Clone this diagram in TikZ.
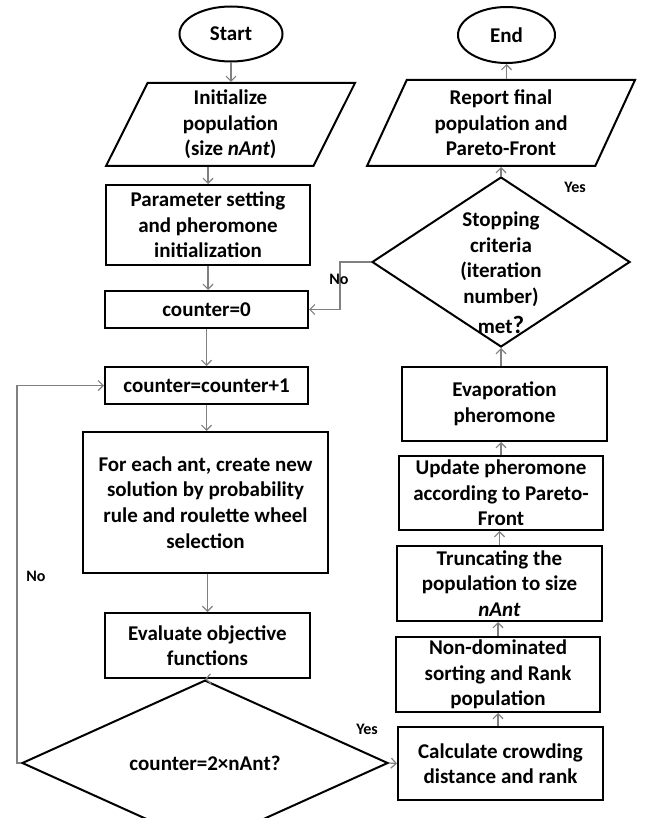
\documentclass[tikz,border=0pt]{standalone}
\usepackage{fontspec}
\setmainfont{Carlito}
\usetikzlibrary{shapes.geometric,arrows.meta}
\begin{document}
\begin{tikzpicture}[x=1pt,y=-1pt,
  txt/.style={font=\fontsize{21}{25.6}\selectfont\bfseries, align=center},
  box/.style={txt, draw=black, line width=2pt, rectangle, inner xsep=3pt, inner ysep=0pt},
  term/.style={txt, draw=black, line width=2pt, ellipse, inner sep=0pt},
  io/.style={txt, draw=black, line width=2pt, trapezium, trapezium left angle=59, trapezium right angle=121, trapezium stretches body, inner sep=0pt},
  dec/.style={txt, draw=black, line width=2pt, diamond, inner sep=0pt},
  flow/.style={draw=black!50, line width=1.2pt, -{Straight Barb[length=5pt,width=10pt]}},
  lbl/.style={font=\fontsize{16}{19}\selectfont\bfseries}
]
\useasboundingbox (0,0) rectangle (651,818);

% left column
\node[term, minimum width=103, minimum height=55] (start) at (231,34) {Start};
\node[io, minimum width=249, minimum height=83] (init) at (230.5,124.5) {Initialize\\population\\(size \textit{nAnt})};
\node[box, minimum width=204, minimum height=80] (param) at (208,225) {Parameter setting\\and pheromone\\initialization};
\node[box, minimum width=203, minimum height=37] (cnt0) at (206.5,309.5) {counter=0};
\node[box, minimum width=203, minimum height=37] (cnt1) at (206.5,385.5) {counter=counter+1};
\node[box, minimum width=245, minimum height=141] (each) at (205.5,502.5) {For each ant, create new\\solution by probability\\rule and roulette wheel\\selection};
\node[box, minimum width=205, minimum height=65] (eval) at (207.5,645.5) {Evaluate objective\\functions};
\node[dec, minimum width=366, minimum height=102] (check) at (205,763) {counter=2×nAnt?};

% right column
\node[box, minimum width=205, minimum height=73] (calc) at (500.5,763.5) {Calculate crowding\\distance and rank};
\node[box, minimum width=204, minimum height=75] (nondom) at (498,674.5) {Non-dominated\\sorting and Rank\\population};
\node[box, minimum width=205, minimum height=75] (trunc) at (499.5,583.5) {Truncating the\\population to size\\\textit{nAnt}};
\node[box, minimum width=204, minimum height=74] (update) at (501,493) {Update pheromone\\according to Pareto-\\Front};
\node[box, minimum width=205, minimum height=74] (evap) at (504.5,404) {Evaporation\\pheromone};
\node[dec, minimum width=258, minimum height=170] (stop) at (501,262) {};
\node[txt, inner sep=0pt] (stoptxt) at (501,273) {Stopping\\criteria\\(iteration\\number)\\[5pt]met{\fontsize{25}{25.6}\selectfont ?}};
\node[io, minimum width=268, minimum height=86] (report) at (501,123) {Report final\\population and\\Pareto-Front};
\node[term, minimum width=97, minimum height=56] (end) at (506.5,35) {End};

% connectors
\draw[flow] (start) -- (start |- init.north);
\draw[flow] (param.north |- init.south) -- (param.north);
\draw[flow] (param.south) -- (cnt0.north -| param.south);
\draw[flow] (cnt0.south) -- (cnt1.north);
\draw[flow] (cnt1.south) -- (each.north -| cnt1.south);
\draw[flow] (each.south -| eval.north) -- (eval.north);
\draw[flow] (eval.south) -- (check.north);
\coordinate (nocorner) at (17,763);
\draw[flow] (check.west) -- (nocorner) |- (cnt1.west);
\node[lbl] (nolbl1) at (36,576) {No};
\draw[flow] (check.east) -- (calc.west);
\node[lbl] (yeslbl1) at (367,729) {Yes};
\draw[flow] (calc.north -| nondom.south) -- (nondom.south);
\draw[flow] (nondom.north) -- (trunc.south -| nondom.north);
\draw[flow] (trunc.north) -- (update.south -| trunc.north);
\draw[flow] (update.north) -- (evap.south -| update.north);
\draw[flow] (evap.north -| stop.south) -- (stop.south);
\draw[flow] (stop.north) -- (report.south -| stop.north);
\draw[flow] (report.north -| end.south) -- (end.south);
\coordinate (nobend) at (340,262);
\draw[flow] (stop.west) -- (nobend) |- (cnt0.east);
\node[lbl] (nolbl2) at (339,279) {No};
\node[lbl] (yeslbl2) at (575,187) {Yes};
\end{tikzpicture}
\end{document}
